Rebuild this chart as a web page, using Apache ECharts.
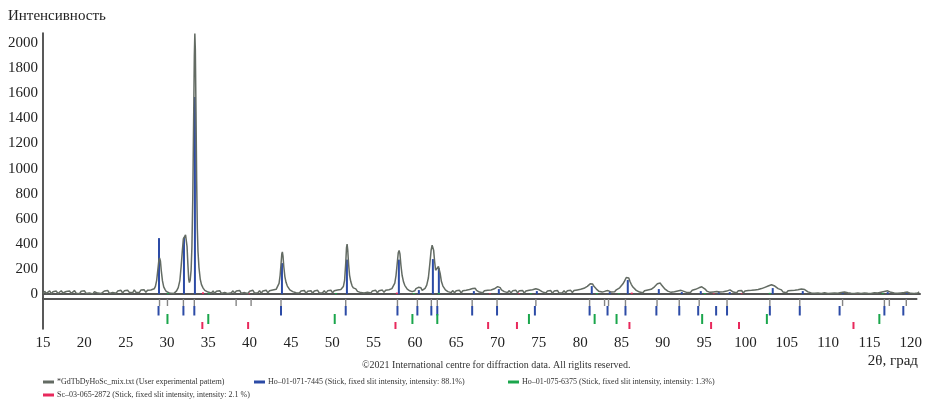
<!DOCTYPE html>
<html>
<head>
    <meta charset="utf-8">
    <title>XRD</title>
    <style>
        html, body { margin: 0; padding: 0; background: #fff; }
        #chart { width: 925px; height: 401px; }
    </style>
</head>
<body>
    <div id="chart"></div>
</body>
<script src="https://cdn.jsdelivr.net/npm/echarts@6/dist/echarts.min.js"></script>
<script type="text/javascript">
    // experimental pattern, [2θ, intensity]
    var pattern = [
        [15.0, 4], [15.2, 22], [15.4, 6], [15.6, 18], [15.8, 26], [16.0, 3], [16.2, 19], [16.4, 8],
        [16.6, 24], [16.8, 5], [17.0, 17], [17.2, 27], [17.4, 9], [17.6, 2], [17.8, 21], [18.0, 12],
        [18.2, 25], [18.4, 6], [18.6, 16], [18.8, 28], [19.0, 7], [19.2, 20], [19.4, 3], [19.6, 23],
        [19.8, 11], [20.0, 26], [20.2, 5], [20.4, 18], [20.6, 9], [20.8, 24], [21.0, 2], [21.2, 19],
        [21.4, 27], [21.6, 8], [21.8, 22], [22.0, 4], [22.2, 17], [22.4, 25], [22.6, 10], [22.8, 29],
        [23.0, 6], [23.2, 21], [23.4, 13], [23.6, 27], [23.8, 7], [24.0, 24], [24.2, 15], [24.4, 30],
        [24.6, 9], [24.8, 26], [25.0, 12], [25.2, 31], [25.4, 14], [25.6, 28], [25.8, 10], [26.0, 33],
        [26.2, 15], [26.4, 29], [26.6, 12], [26.8, 32], [27.0, 17], [27.2, 34], [27.4, 14], [27.6, 30],
        [27.8, 19], [28.0, 33], [28.2, 28], [28.4, 42], [28.55, 62], [28.7, 110], [28.85, 200],
        [28.95, 262], [29.05, 288], [29.15, 265], [29.25, 190], [29.4, 105], [29.55, 58], [29.7, 38],
        [29.85, 22], [30.0, 31], [30.15, 12], [30.3, 24], [30.45, 6], [30.6, 19], [30.75, 4], [30.9, 17],
        [31.1, 26], [31.3, 52], [31.5, 110], [31.65, 220], [31.8, 350], [31.92, 440], [32.0, 452],
        [32.08, 430], [32.18, 472], [32.26, 465], [32.36, 380], [32.46, 240], [32.56, 120], [32.64, 92],
        [32.74, 110], [32.85, 190], [32.95, 380], [33.05, 760], [33.15, 1350], [33.24, 1900], [33.3, 2075],
        [33.36, 1950], [33.44, 1450], [33.52, 900], [33.6, 520], [33.68, 340], [33.8, 210], [33.95, 120],
        [34.1, 75], [34.3, 48], [34.5, 30], [34.7, 36], [34.9, 16], [35.1, 28], [35.3, 9], [35.5, 25],
        [35.7, 6], [35.9, 22], [36.1, 11], [36.3, 27], [36.5, 5], [36.7, 20], [36.9, 13], [37.1, 28],
        [37.3, 4], [37.5, 19], [37.7, 10], [37.9, 26], [38.1, 8], [38.3, 24], [38.5, 14], [38.7, 29],
        [38.9, 6], [39.1, 21], [39.3, 12], [39.5, 27], [39.7, 5], [39.9, 23], [40.1, 15], [40.3, 30],
        [40.5, 8], [40.7, 22], [40.9, 11], [41.1, 28], [41.3, 7], [41.5, 25], [41.7, 14], [41.9, 31],
        [42.1, 10], [42.3, 27], [42.5, 16], [42.7, 33], [42.9, 22], [43.1, 38], [43.3, 52], [43.45, 85],
        [43.58, 150], [43.7, 250], [43.78, 320], [43.85, 336], [43.93, 300], [44.02, 220], [44.15, 140],
        [44.3, 92], [44.45, 64], [44.6, 50], [44.75, 34], [44.9, 40], [45.1, 20], [45.3, 30], [45.5, 11],
        [45.7, 26], [45.9, 8], [46.1, 24], [46.3, 13], [46.5, 29], [46.7, 6], [46.9, 22], [47.1, 12],
        [47.3, 27], [47.5, 7], [47.7, 25], [47.9, 14], [48.1, 30], [48.3, 9], [48.5, 23], [48.7, 11],
        [48.9, 28], [49.1, 8], [49.3, 26], [49.5, 15], [49.7, 31], [49.9, 10], [50.1, 27], [50.3, 16],
        [50.5, 32], [50.7, 20], [50.9, 36], [51.05, 40], [51.2, 60], [51.35, 110], [51.48, 240],
        [51.58, 370], [51.65, 398], [51.73, 350], [51.83, 240], [51.95, 150], [52.1, 98], [52.25, 66],
        [52.4, 50], [52.55, 36], [52.7, 42], [52.9, 22], [53.1, 31], [53.3, 12], [53.5, 27], [53.7, 9],
        [53.9, 24], [54.1, 14], [54.3, 29], [54.5, 8], [54.7, 25], [54.9, 13], [55.1, 30], [55.3, 11],
        [55.5, 27], [55.7, 15], [55.9, 32], [56.1, 14], [56.3, 30], [56.5, 19], [56.7, 35], [56.9, 30],
        [57.05, 44], [57.2, 52], [57.4, 88], [57.55, 150], [57.7, 250], [57.82, 330], [57.92, 348],
        [58.02, 320], [58.14, 230], [58.28, 150], [58.45, 98], [58.6, 70], [58.75, 56], [58.9, 40],
        [59.05, 46], [59.2, 26], [59.35, 36], [59.5, 20], [59.65, 34], [59.8, 26], [59.95, 44],
        [60.1, 38], [60.25, 54], [60.4, 44], [60.55, 50], [60.7, 30], [60.85, 42], [61.05, 46],
        [61.25, 72], [61.45, 130], [61.62, 240], [61.78, 350], [61.9, 390], [61.98, 398], [62.08, 350],
        [62.2, 260], [62.32, 190], [62.44, 175], [62.56, 205], [62.66, 220], [62.76, 205], [62.88, 160],
        [63.02, 100], [63.2, 64], [63.35, 50], [63.5, 34], [63.65, 42], [63.8, 20], [64.0, 32], [64.2, 12],
        [64.4, 28], [64.6, 10], [64.8, 26], [65.0, 14], [65.2, 30], [65.4, 9], [65.6, 27], [65.8, 15],
        [66.0, 31], [66.2, 20], [66.4, 36], [66.6, 30], [66.8, 44], [66.95, 50], [67.1, 46], [67.25, 30],
        [67.4, 38], [67.6, 16], [67.8, 30], [68.0, 11], [68.2, 27], [68.4, 13], [68.6, 31], [68.8, 16],
        [69.0, 33], [69.2, 26], [69.4, 42], [69.6, 44], [69.8, 60], [69.95, 58], [70.1, 52], [70.25, 34],
        [70.4, 40], [70.6, 20], [70.8, 31], [71.0, 12], [71.2, 28], [71.4, 9], [71.6, 26], [71.8, 14],
        [72.0, 30], [72.2, 10], [72.4, 27], [72.6, 13], [72.8, 29], [73.0, 8], [73.2, 25], [73.4, 15],
        [73.6, 31], [73.8, 22], [74.0, 34], [74.2, 30], [74.4, 42], [74.6, 40], [74.8, 34], [75.0, 38],
        [75.2, 18], [75.4, 29], [75.6, 9], [75.8, 25], [76.0, 12], [76.2, 28], [76.4, 7], [76.6, 24],
        [76.8, 13], [77.0, 29], [77.2, 8], [77.4, 23], [77.6, 11], [77.8, 27], [78.0, 10], [78.2, 26],
        [78.4, 14], [78.6, 30], [78.8, 12], [79.0, 28], [79.2, 19], [79.4, 33], [79.6, 27], [79.8, 38],
        [80.0, 36], [80.2, 46], [80.4, 52], [80.6, 62], [80.8, 72], [80.95, 82], [81.1, 92], [81.25, 80],
        [81.4, 62], [81.55, 52], [81.7, 40], [81.85, 34], [82.0, 22], [82.2, 31], [82.4, 16], [82.6, 30],
        [82.8, 24], [82.95, 36], [83.1, 28], [83.3, 34], [83.5, 16], [83.7, 28], [83.9, 18], [84.1, 34],
        [84.3, 36], [84.5, 50], [84.7, 58], [84.9, 82], [85.1, 105], [85.3, 132], [85.45, 142],
        [85.6, 128], [85.75, 100], [85.9, 78], [86.1, 56], [86.3, 44], [86.5, 30], [86.7, 36], [86.9, 16],
        [87.1, 30], [87.3, 11], [87.5, 27], [87.7, 17], [87.9, 33], [88.1, 26], [88.3, 38], [88.5, 46],
        [88.7, 58], [88.9, 68], [89.05, 82], [89.25, 95], [89.4, 88], [89.55, 72], [89.7, 62], [89.9, 44],
        [90.1, 38], [90.3, 24], [90.5, 31], [90.7, 14], [90.9, 28], [91.1, 18], [91.3, 33], [91.5, 24],
        [91.7, 36], [91.9, 30], [92.05, 36], [92.25, 22], [92.45, 30], [92.65, 12], [92.85, 27],
        [93.05, 15], [93.25, 31], [93.45, 24], [93.65, 38], [93.85, 36], [94.05, 50], [94.25, 52],
        [94.4, 58], [94.6, 44], [94.8, 40], [95.0, 24], [95.2, 33], [95.4, 14], [95.6, 29], [95.8, 17],
        [96.0, 32], [96.2, 20], [96.4, 34], [96.6, 16], [96.8, 30], [97.0, 18], [97.2, 33], [97.4, 24],
        [97.6, 36], [97.8, 34], [98.0, 30], [98.2, 16], [98.4, 28], [98.6, 10], [98.8, 26], [99.0, 13],
        [99.2, 29], [99.4, 9], [99.6, 25], [99.8, 12], [100.0, 28], [100.2, 14], [100.4, 30], [100.6, 18],
        [100.8, 33], [101.0, 24], [101.2, 36], [101.4, 32], [101.6, 44], [101.8, 42], [102.0, 54],
        [102.2, 56], [102.4, 64], [102.6, 68], [102.8, 74], [103.0, 70], [103.2, 64], [103.4, 52],
        [103.6, 44], [103.8, 30], [104.0, 34], [104.2, 16], [104.4, 28], [104.6, 10], [104.8, 26],
        [105.0, 13], [105.2, 29], [105.4, 15], [105.6, 31], [105.8, 22], [106.0, 34], [106.2, 30],
        [106.4, 40], [106.6, 42], [106.8, 36], [107.0, 32], [107.2, 18], [107.4, 28], [107.6, 9],
        [107.8, 24], [108.0, 6], [108.2, 21], [108.4, 8], [108.6, 23], [108.8, 5], [109.0, 20], [109.2, 10],
        [109.4, 24], [109.6, 4], [109.8, 19], [110.0, 7], [110.2, 22], [110.4, 9], [110.6, 24], [110.8, 6],
        [111.0, 21], [111.2, 12], [111.4, 26], [111.6, 16], [111.8, 28], [112.0, 10], [112.2, 23],
        [112.4, 6], [112.6, 21], [112.8, 4], [113.0, 19], [113.2, 8], [113.4, 22], [113.6, 5], [113.8, 20],
        [114.0, 9], [114.2, 23], [114.4, 6], [114.6, 21], [114.8, 4], [115.0, 19], [115.2, 10],
        [115.4, 24], [115.6, 8], [115.8, 22], [116.0, 14], [116.2, 27], [116.4, 20], [116.6, 30],
        [116.8, 26], [117.0, 28], [117.2, 14], [117.4, 26], [117.6, 8], [117.8, 22], [118.0, 6],
        [118.2, 20], [118.4, 9], [118.6, 23], [118.8, 12], [119.0, 25], [119.2, 16], [119.4, 22],
        [119.6, 6], [119.8, 20], [120.0, 5], [120.2, 19], [120.4, 8], [120.6, 17]
    ];

    // peaks found in the pattern (grey sticks)
    var patternPeaks = [29.1, 30.06, 31.99, 33.31, 38.37, 40.18, 43.8, 51.63, 57.89, 60.3, 61.99, 62.71,
        66.93, 69.94, 74.64, 81.14, 82.95, 83.43, 85.48, 89.3, 91.99, 94.4, 97.77, 102.95, 106.57,
        111.75, 116.81, 117.41, 119.46];

    // Ho-01-071-7445
    var hoPos = [28.98, 31.99, 33.31, 43.8, 51.63, 57.89, 60.3, 61.99, 62.71, 66.93, 69.94, 74.52,
        81.14, 83.31, 85.48, 89.22, 91.99, 94.28, 96.45, 97.77, 102.95, 106.57, 111.39, 116.81, 119.1];
    var hoInt = [446, 450, 1570, 247, 275, 275, 32, 279, 207, 24, 40, 24,
        64, 16, 112, 40, 16, 24, 16, 16, 48, 24, 8, 16, 8];

    // Ho-01-075-6375
    var ho2Pos = [30.06, 35.0, 50.3, 59.7, 62.71, 73.8, 81.75, 84.4, 94.76, 102.59, 116.2];
    var ho2Int = [10, 8, 8, 8, 10, 6, 8, 6, 8, 10, 8];

    // Sc-03-065-2872
    var scPos = [34.28, 39.82, 57.65, 68.86, 72.35, 85.96, 95.84, 99.22, 113.07];
    var scInt = [14, 8, 12, 6, 6, 12, 6, 6, 6];

    var yTicks = [0, 200, 400, 600, 800, 1000, 1200, 1400, 1600, 1800, 2000];
    var xTicks = [15, 20, 25, 30, 35, 40, 45, 50, 55, 60, 65, 70, 75, 80, 85, 90, 95, 100, 105, 110, 115, 120];

    var NAME_PAT = '*GdTbDyHoSc_mix.txt (User experimental pattern)';
    var NAME_HO = 'Ho–01-071-7445 (Stick, fixed slit intensity, intensity: 88.1%)';
    var NAME_HO2 = 'Ho–01-075-6375 (Stick, fixed slit intensity, intensity: 1.3%)';
    var NAME_SC = 'Sc–03-065-2872 (Stick, fixed slit intensity, intensity: 2.1 %)';

    var C_PAT = '#636b63', C_PEAK = '#858585', C_HO = '#2c4ba6', C_HO2 = '#1ba64c', C_SC = '#e8295c';
    var SERIF = 'Liberation Serif, Times New Roman, serif';

    // sticks in the main plot: from 0 to the intensity
    function mainSticks(pos, vals) {
        var out = [];
        for (var i = 0; i < pos.length; i++) out.push([pos[i], 0, vals[i]]);
        return out;
    }
    // sticks in the lower panel: a fixed row for each phase
    function rowSticks(pos, y0, y1) {
        var out = [];
        for (var i = 0; i < pos.length; i++) out.push([pos[i], y0, y1]);
        return out;
    }

    function stickRenderer(width) {
        return function(params, api) {
            var p0 = api.coord([api.value(0), api.value(1)]);
            var p1 = api.coord([api.value(0), api.value(2)]);
            return {
                type: 'line',
                shape: { x1: p0[0], y1: p0[1], x2: p1[0], y2: p1[1] },
                style: { stroke: api.visual('color'), lineWidth: width }
            };
        };
    }

    function stickSeries(name, color, width, data, axisIndex) {
        return {
            name: name,
            type: 'custom',
            xAxisIndex: axisIndex,
            yAxisIndex: axisIndex,
            renderItem: stickRenderer(width),
            itemStyle: { color: color },
            encode: { x: 0, y: [1, 2] },
            clip: false,
            silent: true,
            data: data
        };
    }

    function legendAt(name, left, top) {
        return {
            data: [name],
            left: left,
            top: top,
            icon: 'rect',
            itemWidth: 11,
            itemHeight: 3,
            itemGap: 4,
            padding: 0,
            selectedMode: false,
            textStyle: { fontFamily: SERIF, fontSize: 8, color: '#333', padding: [0, 0, 0, -2] }
        };
    }

    var myChart = echarts.init(document.getElementById('chart'));
    var option = {
        animation: false,
        grid: [
            { left: 43, right: 5, top: 33, bottom: 102.5 },
            { left: 43, right: 5, top: 298.5, bottom: 72 }
        ],
        xAxis: [{
            gridIndex: 0, type: 'value', min: 15, max: 120.7,
            axisLine: { lineStyle: { color: '#555', width: 2 } },
            axisTick: { show: false }, axisLabel: { show: false }, splitLine: { show: false }
        }, {
            gridIndex: 1, type: 'value', min: 15, max: 120.7,
            axisLine: { lineStyle: { color: '#555', width: 2 } },
            axisTick: { show: false }, splitLine: { show: false },
            axisLabel: {
                customValues: xTicks, margin: 7,
                fontFamily: SERIF, fontSize: 15, color: '#222'
            }
        }],
        yAxis: [{
            gridIndex: 0, type: 'value', min: -35, max: 2080,
            axisLine: { show: true, lineStyle: { color: '#222', width: 1.5 } },
            axisTick: { show: false }, splitLine: { show: false },
            axisLabel: {
                customValues: yTicks, margin: 5,
                formatter: function(v) { return String(v); },
                fontFamily: SERIF, fontSize: 15, color: '#222'
            }
        }, {
            gridIndex: 1, type: 'value', min: 0, max: 30.5, inverse: true,
            axisLine: { show: true, lineStyle: { color: '#222', width: 1.5 } },
            axisTick: { show: false }, axisLabel: { show: false }, splitLine: { show: false }
        }],
        legend: [
            legendAt(NAME_PAT, 43, 378),
            legendAt(NAME_HO, 254, 378),
            legendAt(NAME_HO2, 508, 378),
            legendAt(NAME_SC, 43, 391)
        ],
        graphic: [{
            type: 'text', left: 8, top: 9,
            style: { text: 'Интенсивность', font: '15px ' + SERIF, fill: '#222' }
        }, {
            type: 'text', right: 7, top: 354,
            style: { text: '2θ, град', font: '15px ' + SERIF, fill: '#222' }
        }, {
            type: 'text', left: 362, top: 360,
            style: { text: '©2021 International centre for diffraction data. All riglits reserved.', font: '10px ' + SERIF, fill: '#333' }
        }],
        series: [{
            name: NAME_PAT,
            type: 'line',
            xAxisIndex: 0,
            yAxisIndex: 0,
            data: pattern,
            showSymbol: false,
            clip: false,
            lineStyle: { color: C_PAT, width: 1.5 },
            itemStyle: { color: C_PAT },
            z: 2
        },
            stickSeries(NAME_HO, C_HO, 2, mainSticks(hoPos, hoInt), 0),
            stickSeries(NAME_HO2, C_HO2, 2, mainSticks(ho2Pos, ho2Int), 0),
            stickSeries(NAME_SC, C_SC, 2, mainSticks(scPos, scInt), 0),
            stickSeries(NAME_PAT, C_PEAK, 1.4, rowSticks(patternPeaks, 0.5, 7.5), 1),
            stickSeries(NAME_HO, C_HO, 2, rowSticks(hoPos, 7.5, 17), 1),
            stickSeries(NAME_HO2, C_HO2, 2, rowSticks(ho2Pos, 15.5, 25.5), 1),
            stickSeries(NAME_SC, C_SC, 2, rowSticks(scPos, 23.5, 30.5), 1)
        ]
    };
    myChart.setOption(option);
</script>
</html>
